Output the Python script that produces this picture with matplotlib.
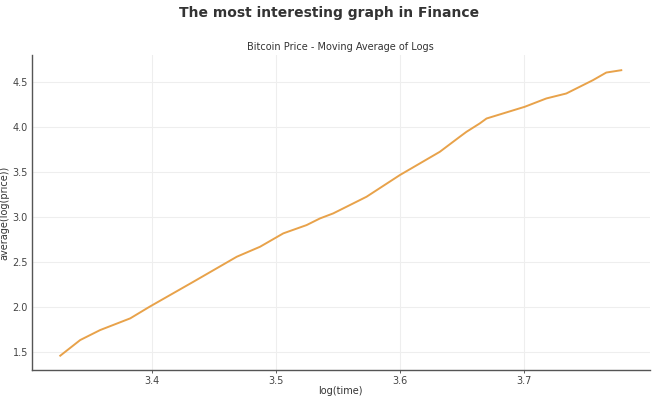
import matplotlib
matplotlib.use("Agg")
import matplotlib.pyplot as plt

log_time = [3.3258, 3.3419, 3.358, 3.3823, 3.398, 3.4333, 3.4683, 3.4871, 3.5059,
            3.5247, 3.5355, 3.5462, 3.5731, 3.6, 3.6323, 3.6484, 3.6538, 3.6645,
            3.670, 3.7008, 3.7183, 3.7344, 3.7559, 3.7667, 3.7788]
avg_log_price = [1.459, 1.633, 1.744, 1.874, 2.004, 2.281, 2.559, 2.670, 2.819,
                 2.911, 2.985, 3.041, 3.226, 3.467, 3.726, 3.893, 3.948, 4.041,
                 4.096, 4.226, 4.319, 4.374, 4.522, 4.607, 4.633]
x_ticks = [3.4, 3.5, 3.6, 3.7]
y_ticks = [1.5, 2.0, 2.5, 3.0, 3.5, 4.0, 4.5]

fig = plt.figure(figsize=(6.59, 3.99), dpi=100)
ax = fig.add_axes([0.0486, 0.0727, 0.937, 0.789])
ax.plot(log_time, avg_log_price, color="#E8A24A", linewidth=1.4)
ax.set_xlim(3.303, 3.8016)
ax.set_ylim(1.3, 4.8)
ax.set_xticks(x_ticks)
ax.set_yticks(y_ticks)
ax.grid(True, color="#eeeeee", linewidth=0.8)
ax.set_axisbelow(True)
for s in ["top", "right"]:
    ax.spines[s].set_visible(False)
for s in ["left", "bottom"]:
    ax.spines[s].set_color("#555555")
    ax.spines[s].set_linewidth(1.0)
ax.tick_params(axis="both", labelsize=7, colors="#444444", width=0.6, pad=1.5)
ax.tick_params(axis="x", length=2.5)
ax.tick_params(axis="y", length=0, pad=3)
ax.set_xlabel("log(time)", fontsize=7, color="#333333", labelpad=0.5)
ax.set_ylabel("average(log(price))", fontsize=7, color="#333333", labelpad=2)
ax.set_title("Bitcoin Price - Moving Average of Logs", fontsize=7, color="#333333", pad=4)
fig.suptitle("The most interesting graph in Finance", fontsize=10, fontweight="bold",
             color="#333333", y=0.985)
fig.savefig("out.png", dpi=100)
